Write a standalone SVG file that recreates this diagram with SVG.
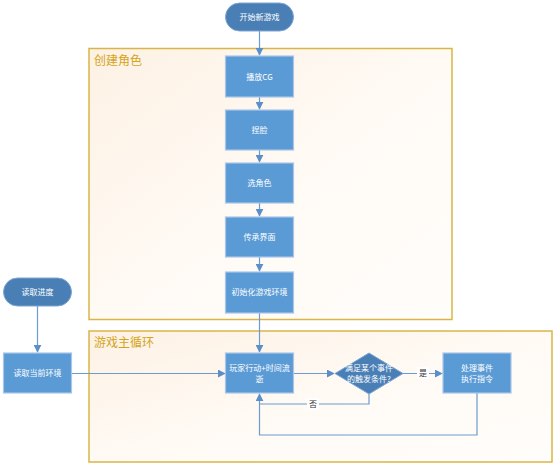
<svg xmlns="http://www.w3.org/2000/svg" width="554" height="464" viewBox="0 0 554 464">
<defs>
<linearGradient id="gf" x1="0" y1="0" x2="1" y2="1">
<stop offset="0" stop-color="#fdf1e4"/>
<stop offset="0.5" stop-color="#fffaf4"/>
<stop offset="1" stop-color="#fffdfb"/>
</linearGradient>
<marker id="ar" viewBox="0 0 10 10" refX="9" refY="5" markerWidth="8" markerHeight="8" markerUnits="userSpaceOnUse" orient="auto">
<path d="M0,0 L10,5 L0,10 z" fill="#5b8fc9"/>
</marker>
<style>
.grp{fill:url(#gf);stroke:#d9b548;stroke-width:1.5}
.gt{font-family:"Noto Sans CJK SC","Liberation Sans",sans-serif;font-size:12px;fill:#d4a418}
.box{fill:#5b9bd5;stroke:#a9c6e8;stroke-width:1.2}
.pill{fill:#4a7fb6;stroke:#7ea6d3;stroke-width:1}
.t{font-family:"Noto Sans CJK SC","Liberation Sans",sans-serif;font-size:8px;fill:#ffffff;text-anchor:middle}
.c{fill:none;stroke:#6b9bcf;stroke-width:1.2}
.lb{font-family:"Noto Sans CJK SC","Liberation Sans",sans-serif;font-size:8px;fill:#333333;text-anchor:middle}
</style>
</defs>
<rect width="554" height="464" fill="#ffffff"/>
<g id="group-create">
<rect class="grp" x="89" y="48.5" width="363" height="271"/>
<text class="gt" x="94" y="65">创建角色</text>
</g>
<g id="group-loop">
<rect class="grp" x="89" y="331" width="463" height="131"/>
<text class="gt" x="94" y="347">游戏主循环</text>
</g>
<g id="connectors">
<path class="c" d="M259.5,31 V55" marker-end="url(#ar)"/>
<path class="c" d="M259.5,97 V109" marker-end="url(#ar)"/>
<path class="c" d="M259.5,150 V162" marker-end="url(#ar)"/>
<path class="c" d="M259.5,203 V216" marker-end="url(#ar)"/>
<path class="c" d="M259.5,257 V271" marker-end="url(#ar)"/>
<path class="c" d="M259.5,313 V352" marker-end="url(#ar)"/>
<path class="c" d="M37.5,306 V352" marker-end="url(#ar)"/>
<path class="c" d="M72,373.5 H225" marker-end="url(#ar)"/>
<path class="c" d="M293,373.5 H334" marker-end="url(#ar)"/>
<path class="c" d="M403,373.5 H442" marker-end="url(#ar)"/>
<path class="c" d="M369,394 V404 H259.5 V394" marker-end="url(#ar)"/>
<path class="c" d="M477,393 V435 H259.5 V404"/>
<rect x="417" y="367" width="12" height="12" fill="#ffffff"/>
<text class="lb" x="423" y="376">是</text>
<rect x="307" y="398" width="12" height="12" fill="#ffffff"/>
<text class="lb" x="313" y="407">否</text>
</g>
<g id="start">
<rect class="pill" x="225.5" y="3" width="68" height="28" rx="14"/>
<text class="t" x="259.5" y="20">开始新游戏</text>
</g>
<g id="play-cg">
<rect class="box" x="225.5" y="56" width="68" height="41"/>
<text class="t" x="259.5" y="79.5">播放CG</text>
</g>
<g id="face">
<rect class="box" x="225.5" y="110" width="68" height="40"/>
<text class="t" x="259.5" y="133">捏脸</text>
</g>
<g id="choose-role">
<rect class="box" x="225.5" y="163" width="68" height="40"/>
<text class="t" x="259.5" y="186">选角色</text>
</g>
<g id="inherit">
<rect class="box" x="225.5" y="217" width="68" height="40"/>
<text class="t" x="259.5" y="240">传承界面</text>
</g>
<g id="init-env">
<rect class="box" x="225.5" y="272" width="68" height="41"/>
<text class="t" x="259.5" y="295">初始化游戏环境</text>
</g>
<g id="load">
<rect class="pill" x="3.5" y="278" width="68" height="28" rx="14"/>
<text class="t" x="37.5" y="295">读取进度</text>
</g>
<g id="load-env">
<rect class="box" x="3.5" y="353" width="68" height="40"/>
<text class="t" x="37.5" y="376">读取当前环境</text>
</g>
<g id="player-action">
<rect class="box" x="225.5" y="353" width="68" height="40"/>
<text class="t" x="259.5" y="371">玩家行动+时间流</text>
<text class="t" x="259.5" y="382">逝</text>
</g>
<g id="condition">
<polygon points="369,353 403,373.5 369,394 335,373.5" fill="#4a7fb6" stroke="#7ea6d3" stroke-width="1"/>
<text class="t" x="369" y="371">满足某个事件</text>
<text class="t" x="369" y="382">的触发条件?</text>
</g>
<g id="handle-event">
<rect class="box" x="443" y="353" width="68" height="40"/>
<text class="t" x="477" y="371">处理事件</text>
<text class="t" x="477" y="382">执行指令</text>
</g>
</svg>
